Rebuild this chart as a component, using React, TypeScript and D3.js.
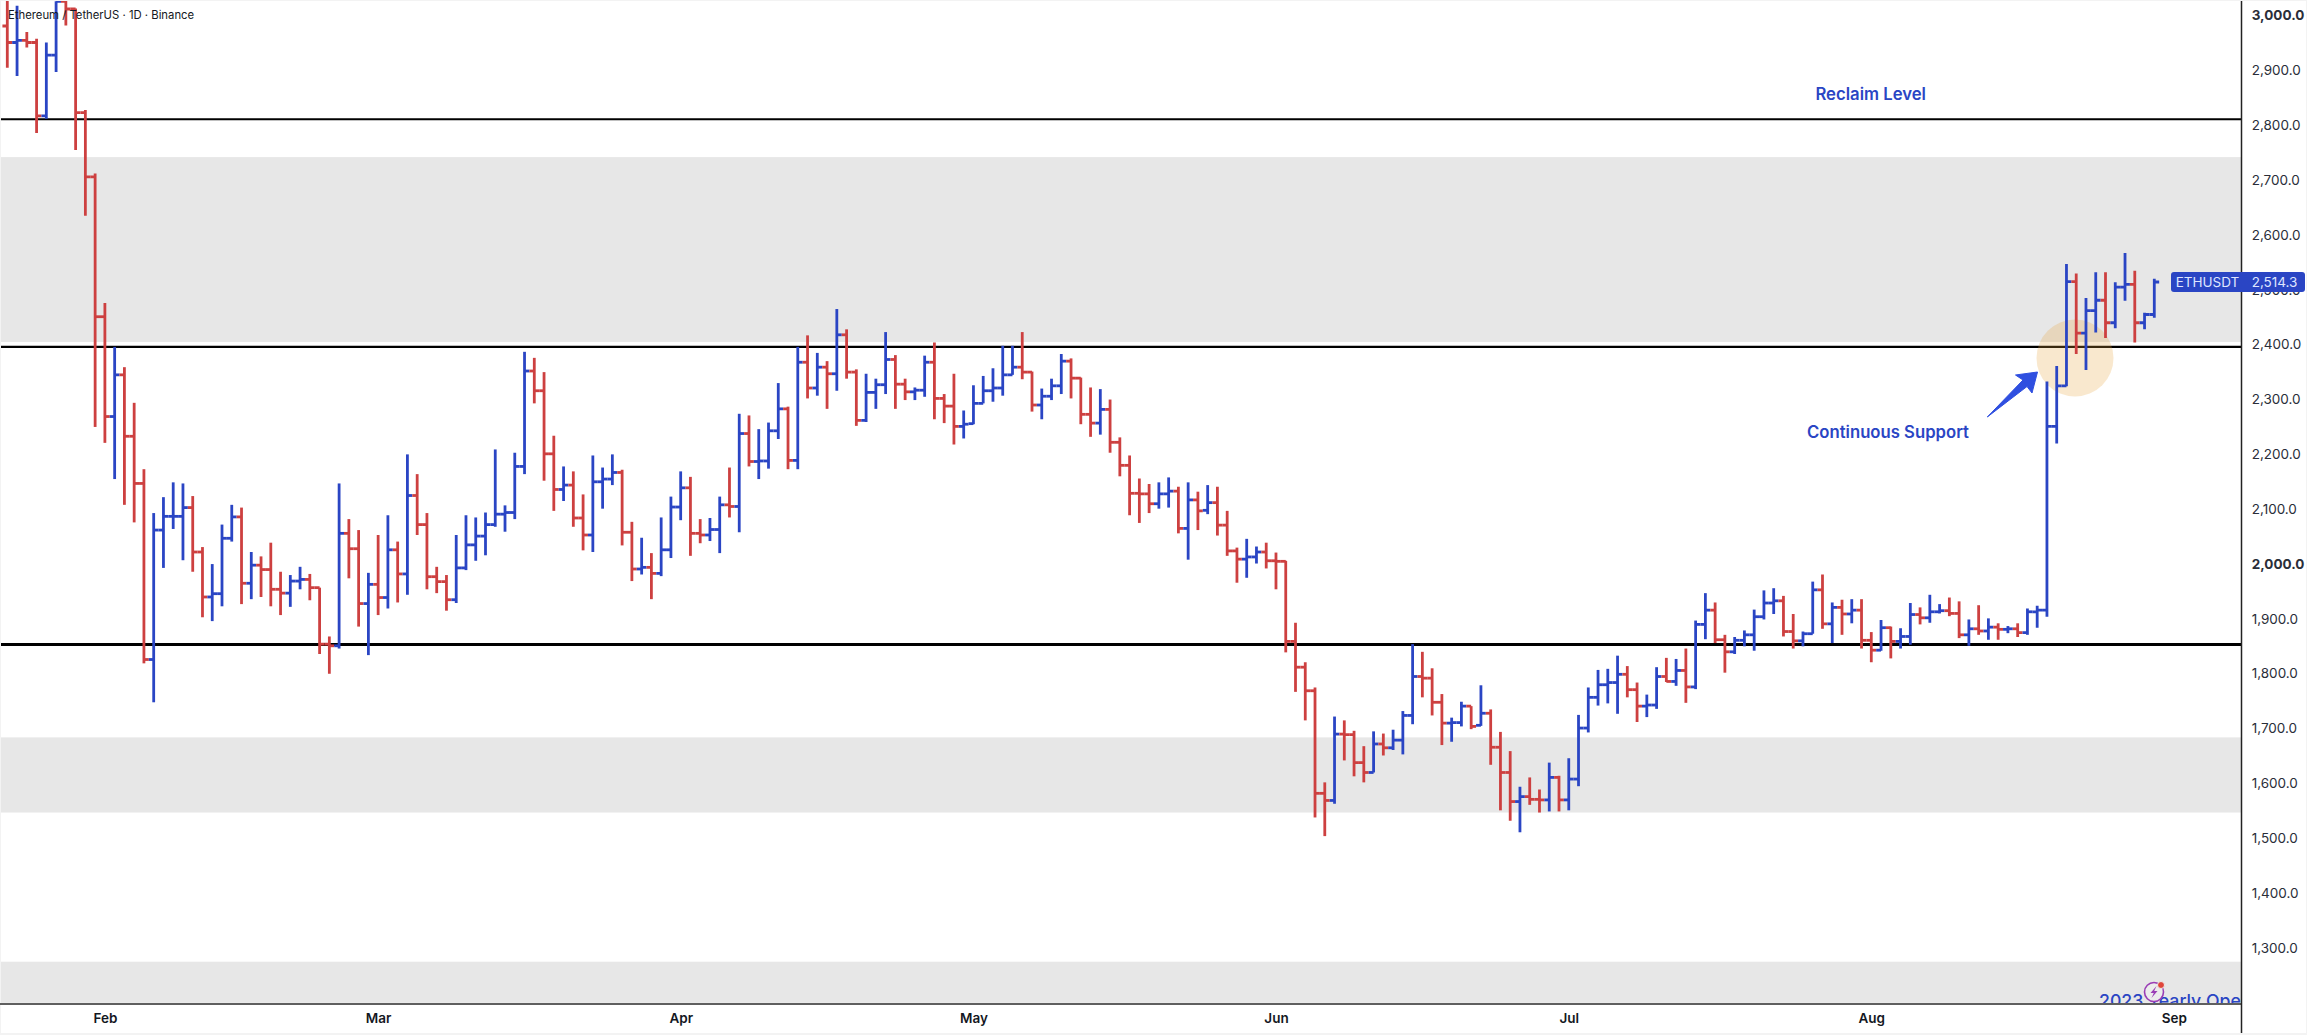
import * as d3 from "d3";
import { useEffect, useRef } from "react";

const WIDTH = 2307;
const HEIGHT = 1035;
const PLOT_RIGHT = 2241.5;
const PLOT_BOTTOM = 1004;
const BLUE = "#2a45c4";
const RED = "#cd4040";
const FONT = "Inter, 'Noto Sans', sans-serif";

const FIRST_DAY = new Date(Date.UTC(2023, 0, 22));
const LAST_DAY = new Date(Date.UTC(2023, 7, 30));

// daily bars, Jan 22 -> Aug 30
const opens = [
  2981, 2951, 2955, 2951, 2817, 2928, 3026, 3012, 2823, 2706,
  2451, 2269, 2345, 2233, 2147, 1826, 2062, 2087, 2087, 2103,
  2022, 1940, 1946, 2047, 2086, 1965, 1998, 1990, 1954, 1947,
  1969, 1972, 1957, 1854, 1851, 2056, 2028, 1928, 1963, 1939,
  2026, 1982, 2125, 2072, 1977, 1968, 1935, 1993, 2035, 2051,
  2072, 2091, 2094, 2178, 2352, 2316, 2201, 2136, 2144, 2084,
  2053, 2150, 2155, 2167, 2058, 1991, 1994, 1983, 2026, 2104,
  2139, 2056, 2053, 2063, 2108, 2105, 2238, 2187, 2188, 2243,
  2283, 2189, 2368, 2321, 2359, 2347, 2418, 2350, 2262, 2313,
  2327, 2373, 2328, 2314, 2317, 2368, 2302, 2288, 2251, 2256,
  2293, 2316, 2321, 2345, 2359, 2350, 2290, 2306, 2325, 2370,
  2339, 2273, 2257, 2282, 2222, 2180, 2129, 2128, 2110, 2128,
  2133, 2065, 2117, 2098, 2112, 2071, 2024, 2009, 2013, 2022,
  2006, 2005, 1859, 1812, 1769, 1582, 1569, 1690, 1689, 1638,
  1620, 1672, 1665, 1679, 1724, 1795, 1792, 1748, 1710, 1711,
  1741, 1706, 1728, 1666, 1620, 1567, 1576, 1571, 1570, 1611,
  1570, 1608, 1701, 1757, 1780, 1784, 1799, 1771, 1741, 1743,
  1795, 1786, 1806, 1776, 1890, 1916, 1862, 1840, 1861, 1871,
  1904, 1929, 1933, 1877, 1860, 1873, 1953, 1891, 1921, 1909,
  1916, 1861, 1843, 1884, 1859, 1868, 1908, 1902, 1913, 1915,
  1910, 1871, 1882, 1878, 1885, 1881, 1882, 1875, 1913, 1916,
  2251, 2325, 2515, 2421, 2462, 2481, 2440, 2505, 2510, 2440, 2455,
];
const closes = [
  2951, 2955, 2951, 2817, 2928, 3026, 3012, 2823, 2706, 2451,
  2269, 2345, 2233, 2147, 1826, 2062, 2087, 2087, 2103, 2022,
  1940, 1946, 2047, 2086, 1965, 1998, 1990, 1954, 1947, 1969,
  1972, 1957, 1854, 1851, 2056, 2028, 1928, 1963, 1939, 2026,
  1982, 2125, 2072, 1977, 1968, 1935, 1993, 2035, 2051, 2072,
  2091, 2094, 2178, 2352, 2316, 2201, 2136, 2144, 2084, 2053,
  2150, 2155, 2167, 2058, 1991, 1994, 1983, 2026, 2104, 2139,
  2056, 2053, 2063, 2108, 2105, 2238, 2187, 2188, 2243, 2283,
  2189, 2368, 2321, 2359, 2347, 2418, 2350, 2262, 2313, 2327,
  2373, 2328, 2314, 2317, 2368, 2302, 2288, 2251, 2255, 2293,
  2316, 2321, 2345, 2359, 2350, 2290, 2306, 2325, 2370, 2339,
  2273, 2257, 2282, 2222, 2180, 2129, 2128, 2110, 2128, 2133,
  2065, 2117, 2097, 2112, 2071, 2024, 2009, 2013, 2022, 2006,
  2005, 1859, 1812, 1769, 1582, 1569, 1690, 1689, 1638, 1620,
  1672, 1665, 1679, 1724, 1795, 1792, 1748, 1710, 1711, 1741,
  1704, 1728, 1666, 1620, 1567, 1576, 1571, 1570, 1611, 1570,
  1608, 1701, 1757, 1780, 1784, 1799, 1771, 1741, 1743, 1795,
  1786, 1806, 1776, 1890, 1916, 1862, 1840, 1861, 1871, 1904,
  1929, 1933, 1877, 1860, 1873, 1953, 1891, 1921, 1909, 1916,
  1861, 1843, 1884, 1859, 1868, 1908, 1902, 1913, 1915, 1910,
  1871, 1882, 1878, 1885, 1881, 1882, 1875, 1913, 1916, 2251,
  2325, 2515, 2421, 2462, 2481, 2440, 2505, 2510, 2440, 2455, 2514.3,
];
const highs = [
  3036, 3018, 2970, 2958, 2951, 3026, 3028, 3013, 2828, 2712,
  2476, 2396, 2359, 2294, 2173, 2093, 2122, 2149, 2147, 2124,
  2031, 2000, 2072, 2108, 2103, 2022, 2014, 2039, 1986, 1980,
  1995, 1982, 1957, 1868, 2147, 2082, 2062, 1984, 2053, 2089,
  2041, 2200, 2164, 2093, 1995, 1980, 2053, 2089, 2085, 2094,
  2209, 2107, 2203, 2387, 2376, 2350, 2234, 2178, 2169, 2127,
  2198, 2176, 2200, 2172, 2077, 2048, 2020, 2085, 2123, 2169,
  2159, 2082, 2084, 2123, 2176, 2274, 2271, 2246, 2258, 2330,
  2287, 2396, 2417, 2385, 2370, 2465, 2428, 2355, 2347, 2338,
  2423, 2381, 2338, 2322, 2380, 2404, 2310, 2347, 2280, 2326,
  2343, 2357, 2398, 2398, 2423, 2351, 2320, 2338, 2383, 2375,
  2340, 2322, 2319, 2300, 2231, 2198, 2156, 2146, 2149, 2158,
  2141, 2149, 2132, 2144, 2141, 2097, 2030, 2046, 2032, 2039,
  2021, 2006, 1893, 1821, 1775, 1602, 1722, 1715, 1696, 1668,
  1695, 1691, 1698, 1732, 1854, 1840, 1810, 1763, 1720, 1749,
  1741, 1779, 1735, 1694, 1659, 1594, 1611, 1589, 1638, 1614,
  1646, 1725, 1775, 1807, 1809, 1833, 1814, 1784, 1762, 1812,
  1829, 1827, 1846, 1897, 1947, 1930, 1871, 1867, 1879, 1917,
  1952, 1956, 1942, 1909, 1877, 1968, 1981, 1930, 1935, 1936,
  1936, 1876, 1898, 1886, 1883, 1929, 1921, 1944, 1927, 1939,
  1932, 1899, 1925, 1901, 1892, 1887, 1892, 1919, 1924, 2333,
  2361, 2547, 2530, 2485, 2532, 2532, 2514, 2567, 2535, 2458, 2520,
];
const lows = [
  2905, 2890, 2942, 2786, 2812, 2897, 2982, 2755, 2635, 2250,
  2221, 2155, 2108, 2076, 1819, 1748, 1993, 2064, 2007, 1986,
  1903, 1896, 1923, 2041, 1927, 1936, 1940, 1923, 1907, 1922,
  1954, 1934, 1836, 1800, 1846, 1974, 1886, 1834, 1907, 1919,
  1930, 1944, 2053, 1954, 1947, 1915, 1929, 1989, 2006, 2016,
  2068, 2059, 2082, 2164, 2293, 2152, 2097, 2115, 2068, 2025,
  2022, 2101, 2144, 2034, 1969, 1981, 1936, 1978, 2011, 2080,
  2015, 2038, 2042, 2020, 2085, 2058, 2178, 2155, 2174, 2228,
  2173, 2173, 2302, 2307, 2283, 2316, 2338, 2252, 2259, 2283,
  2310, 2283, 2299, 2299, 2305, 2264, 2257, 2218, 2229, 2255,
  2293, 2296, 2307, 2345, 2337, 2278, 2264, 2299, 2310, 2302,
  2255, 2232, 2236, 2203, 2160, 2089, 2075, 2093, 2101, 2103,
  2056, 2008, 2062, 2091, 2052, 2015, 1966, 1975, 2001, 1992,
  1954, 1839, 1767, 1715, 1538, 1504, 1563, 1642, 1613, 1602,
  1620, 1651, 1661, 1653, 1708, 1757, 1724, 1670, 1676, 1704,
  1699, 1705, 1634, 1551, 1532, 1511, 1561, 1547, 1549, 1549,
  1551, 1595, 1693, 1742, 1746, 1727, 1757, 1712, 1721, 1736,
  1785, 1778, 1747, 1772, 1863, 1856, 1802, 1836, 1850, 1842,
  1899, 1909, 1868, 1846, 1850, 1873, 1882, 1856, 1871, 1892,
  1846, 1821, 1842, 1828, 1846, 1853, 1890, 1893, 1910, 1905,
  1865, 1851, 1871, 1862, 1862, 1874, 1867, 1871, 1884, 1904,
  2220, 2324, 2383, 2354, 2422, 2412, 2430, 2480, 2404, 2428, 2449,
];

const priceTicks = d3.range(1300, 3001, 100);
const boldPrices = [2000, 3000];
const monthTicks = [1, 2, 3, 4, 5, 6, 7, 8].map((m) => new Date(Date.UTC(2023, m, 1)));

const bands = [
  [2742, 2405],
  [1684, 1547],
  [1275, 1200],
];
const levels = [
  { price: 2811, width: 2 },
  { price: 2396, width: 2.2 },
  { price: 1853.5, width: 3 },
];

const xScale = d3.scaleUtc().domain([FIRST_DAY, LAST_DAY]).range([7.3, 2154.3]);
const yScale = d3.scaleLinear().domain([3000, 1300]).range([15.6, 948]);
const STEP = (xScale.range()[1] - xScale.range()[0]) / (closes.length - 1);
const days = closes.map((_, i) => d3.utcDay.offset(FIRST_DAY, i));

const LAST_PRICE = closes[closes.length - 1];

export default function App() {
  const yAxisRef = useRef<SVGGElement>(null);
  const xAxisRef = useRef<SVGGElement>(null);

  useEffect(() => {
    const yAxis = d3
      .axisRight(yScale)
      .tickValues(priceTicks)
      .tickSize(0)
      .tickFormat((d) => d3.format(",.1f")(d as number));
    const yG = d3.select(yAxisRef.current!).call(yAxis as any);
    yG.select(".domain").remove();
    yG.selectAll<SVGTextElement, number>("text")
      .attr("x", 2251.7 - PLOT_RIGHT)
      .attr("dy", "0.31em")
      .attr("text-anchor", "start")
      .attr("fill", "#2a2e39")
      .attr("font-family", FONT)
      .attr("font-size", 13.5)
      .attr("font-weight", (d) => (boldPrices.includes(d) ? 700 : 400));

    const xAxis = d3
      .axisBottom(xScale)
      .tickValues(monthTicks)
      .tickSize(0)
      .tickFormat((d) => d3.utcFormat("%b")(d as Date));
    const xG = d3.select(xAxisRef.current!).call(xAxis as any);
    xG.select(".domain").remove();
    xG.selectAll("text")
      .attr("y", 14.5)
      .attr("dy", "0.35em")
      .attr("fill", "#131722")
      .attr("font-family", FONT)
      .attr("font-size", 13.5)
      .attr("font-weight", 600);
  }, []);

  return (
    <svg
      width={WIDTH}
      height={HEIGHT}
      style={{ position: "absolute", left: 0, top: 0, display: "block" }}
    >
      <defs>
        <clipPath id="plot">
          <rect x={1} y={1} width={PLOT_RIGHT - 1} height={PLOT_BOTTOM - 1} />
        </clipPath>
      </defs>
      <rect width={WIDTH} height={HEIGHT} fill="#f3f3f3" />
      <rect x={1} y={1} width={WIDTH - 2} height={1032} fill="#fff" />

      <g clipPath="url(#plot)">
        {bands.map(([top, bottom]) => (
          <rect
            key={top}
            x={1}
            width={PLOT_RIGHT}
            y={yScale(top)}
            height={yScale(bottom) - yScale(top)}
            fill="#e7e7e7"
          />
        ))}
        {levels.map((l) => (
          <line
            key={l.price}
            x1={1}
            x2={PLOT_RIGHT}
            y1={yScale(l.price)}
            y2={yScale(l.price)}
            stroke="#000"
            strokeWidth={l.width}
          />
        ))}
        <circle cx={2075} cy={358} r={38.5} fill="#e7a33b" fillOpacity={0.25} />

        {days.map((day, i) => {
          const x = xScale(day);
          const up = closes[i] >= opens[i];
          const color = up ? BLUE : RED;
          return (
            <g key={i} stroke={color} strokeWidth={2.8}>
              <line x1={x} x2={x} y1={yScale(highs[i])} y2={yScale(lows[i])} />
              <line x1={x - STEP / 2} x2={x} y1={yScale(opens[i])} y2={yScale(opens[i])} />
              <line x1={x} x2={x + STEP / 2} y1={yScale(closes[i])} y2={yScale(closes[i])} />
            </g>
          );
        })}

        <text x={2099} y={1006.5} fill={BLUE} fontFamily={FONT} fontSize={17.7} fontWeight={500}>
          2023 Yearly Open
        </text>
      </g>

      <rect x={0} y={PLOT_BOTTOM - 1} width={PLOT_RIGHT} height={2} fill="#5f5f5f" />
      <line x1={PLOT_RIGHT} x2={PLOT_RIGHT} y1={1} y2={1033} stroke="#222" strokeWidth={1.5} />

      <g transform={`translate(${PLOT_RIGHT},0)`} ref={yAxisRef} />
      <g transform={`translate(0,${PLOT_BOTTOM})`} ref={xAxisRef} />

      <text x={8} y={19} fill="#131722" fontFamily={FONT} fontSize={11.3}>
        Ethereum / TetherUS · 1D · Binance
      </text>

      <text x={1870.7} y={100} textAnchor="middle" fill={BLUE} fontFamily={FONT} fontSize={16.7} fontWeight={600}>
        Reclaim Level
      </text>
      <text x={1969} y={437.5} textAnchor="end" fill={BLUE} fontFamily={FONT} fontSize={16.7} fontWeight={600}>
        Continuous Support
      </text>
      {/* arrow pointing at the circle */}
      <path
        d="M1987.3 417 L2023 380 L2015.5 375 L2037.5 372 L2032 393 L2027 386.5 Z"
        fill="#2f4fe0"
        stroke="#2f4fe0"
        strokeWidth={1}
        strokeLinejoin="round"
      />

      {/* last price label */}
      <rect x={2171} y={yScale(LAST_PRICE) - 10} width={134} height={20} rx={3} fill={BLUE} />
      <text x={2175.7} y={yScale(LAST_PRICE)} dy="0.36em" fill="#dfe5ff" fontFamily={FONT} fontSize={13.5}>
        ETHUSDT
      </text>
      <text x={2251.7} y={yScale(LAST_PRICE)} dy="0.36em" fill="#dfe5ff" fontFamily={FONT} fontSize={13.5}>
        {d3.format(",.1f")(LAST_PRICE)}
      </text>

      {/* flash icon over the yearly open label */}
      <circle cx={2154} cy={992} r={9.5} fill="#ececec" stroke="#9a3db5" strokeWidth={1.6} />
      <path d="M2156.5 986 L2150.5 993 L2153.8 993 L2151.5 998 L2157.5 991 L2154.2 991 Z" fill="#9a3db5" />
      <circle cx={2161} cy={985} r={3.5} fill="#e0453a" stroke="#ececec" strokeWidth={1} />
    </svg>
  );
}
